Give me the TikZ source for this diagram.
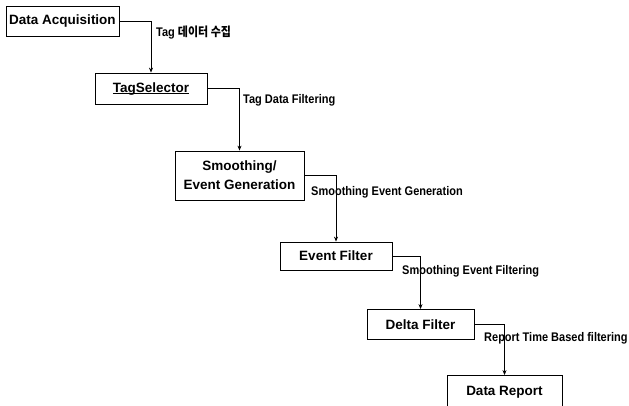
\documentclass[tikz,border=0pt]{standalone}
\usepackage{fontspec}
\setmainfont{Liberation Sans}
\newfontfamily\labelfont{Liberation Sans}[FakeStretch=0.88]
\newfontfamily\krfont{Noto Sans CJK KR}[FakeStretch=0.88]
\usetikzlibrary{arrows.meta}
\begin{document}
\begin{tikzpicture}[x=1pt,y=-1pt,
  procbox/.style={draw=black,line width=0.8pt,inner sep=0pt,align=center,
    font=\fontsize{13.5}{19}\selectfont\bfseries},
  flowlabel/.style={anchor=west,inner sep=0pt,font=\labelfont\fontsize{12.5}{14}\selectfont\bfseries},
  flow/.style={draw=black,line width=0.8pt,-{Stealth[length=5pt,width=4pt]}}]
\useasboundingbox (0,0) rectangle (629,405);
\node[procbox,minimum width=113pt,minimum height=30pt] (acq) at (62.5,21.5) {Data Acquisition};
\node[procbox,minimum width=112pt,minimum height=31pt] (tag) at (151,88.5) {\underline{\vphantom{T}\smash{TagSelector}}};
\node[procbox,minimum width=129pt,minimum height=49pt] (smooth) at (239.5,175.5) {Smoothing/\\Event Generation};
\node[procbox,minimum width=112pt,minimum height=28pt] (event) at (336,256) {Event Filter};
\node[procbox,minimum width=107pt,minimum height=30pt] (delta) at (420.5,324.5) {Delta Filter};
\node[procbox,minimum width=115pt,minimum height=34pt,text depth=3pt] (report) at (504.5,392.5) {Data Report};
\draw[flow] (acq.east) -| (tag.north);
\draw[flow] (tag.east) -| (smooth.north);
\draw[flow] (smooth.east) -| (event.north);
\draw[flow] (event.east) -| (delta.north);
\draw[flow] (delta.east) -| (report.north);
\node[flowlabel] (l1) at (156,33) {Tag {\krfont 데이터 수집}};
\node[flowlabel] (l2) at (243,100) {Tag Data Filtering};
\node[flowlabel] (l3) at (311,192) {Smoothing Event Generation};
\node[flowlabel] (l4) at (402,271) {Smoothing Event Filtering};
\node[flowlabel] (l5) at (484,338) {Report Time Based filtering};
\end{tikzpicture}
\end{document}
